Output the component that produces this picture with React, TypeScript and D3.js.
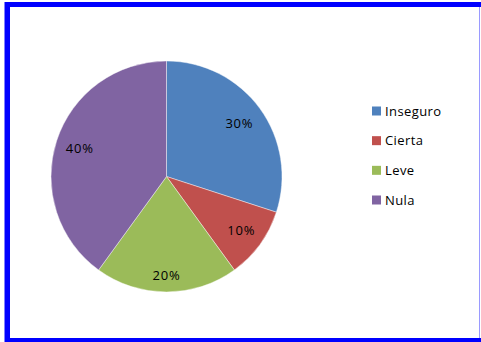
import React from "react";
import * as d3 from "d3";

const categories = ["Inseguro", "Cierta", "Leve", "Nula"];
const values = [30, 10, 20, 40];
const colors = ["#4F81BD", "#C0504D", "#9BBB59", "#8064A2"];

export default function App() {
  const W = 481, H = 342;
  const cx = 166.5, cy = 176.5, r = 115.5;
  const pie = d3.pie<number>().sort(null).value((d) => d);
  const arcs = pie(values);
  const arcGen = d3.arc<d3.PieArcDatum<number>>().innerRadius(0).outerRadius(r);
  const total = d3.sum(values);
  const labelFactor = [0.78, 0.8, 0.86, 0.79];
  const legendY = d3.scalePoint<string>().domain(categories).range([111, 200]);
  const font = "'Open Sans', sans-serif";
  return (
    <svg width={W} height={H} style={{ position: "absolute", left: 0, top: 0 }}>
      <rect x={0} y={0} width={W} height={H} fill="#fff" />
      <rect x={4} y={2} width={W - 4} height={H - 2} fill="#0000FF" />
      <rect x={4} y={2} width={1} height={H - 2} fill="#8080ff" />
      <rect x={10} y={7} width={469} height={331} fill="#fff" />
      <rect x={479} y={7} width={1} height={331} fill="#9a9aff" />
      <rect x={480} y={7} width={1} height={331} fill="#fff" />
      <g transform={`translate(${cx},${cy})`}>
        {arcs.map((a, i) => (
          <path key={i} d={arcGen(a) || ""} fill={colors[i]} stroke="#ffffff" strokeWidth={0.6} strokeOpacity={0.7} />
        ))}
        {arcs.map((a, i) => {
          const lr = r * labelFactor[i];
          const c = d3.arc<d3.PieArcDatum<number>>().innerRadius(lr).outerRadius(lr).centroid(a);
          return (
            <text key={"l" + i} x={c[0]} y={c[1]} dy="0.35em" textAnchor="middle" fontFamily={font} fontSize={13} letterSpacing={0.8} fill="#000">
              {d3.format(".0%")(values[i] / total)}
            </text>
          );
        })}
      </g>
      {categories.map((c, i) => (
        <g key={c} transform={`translate(372,${legendY(c)})`}>
          <rect x={0} y={-4.5} width={9} height={9} fill={colors[i]} />
          <text x={13} y={0} dy="0.36em" fontFamily={font} fontSize={13} letterSpacing={0.4} fill="#000">{c}</text>
        </g>
      ))}
    </svg>
  );
}
